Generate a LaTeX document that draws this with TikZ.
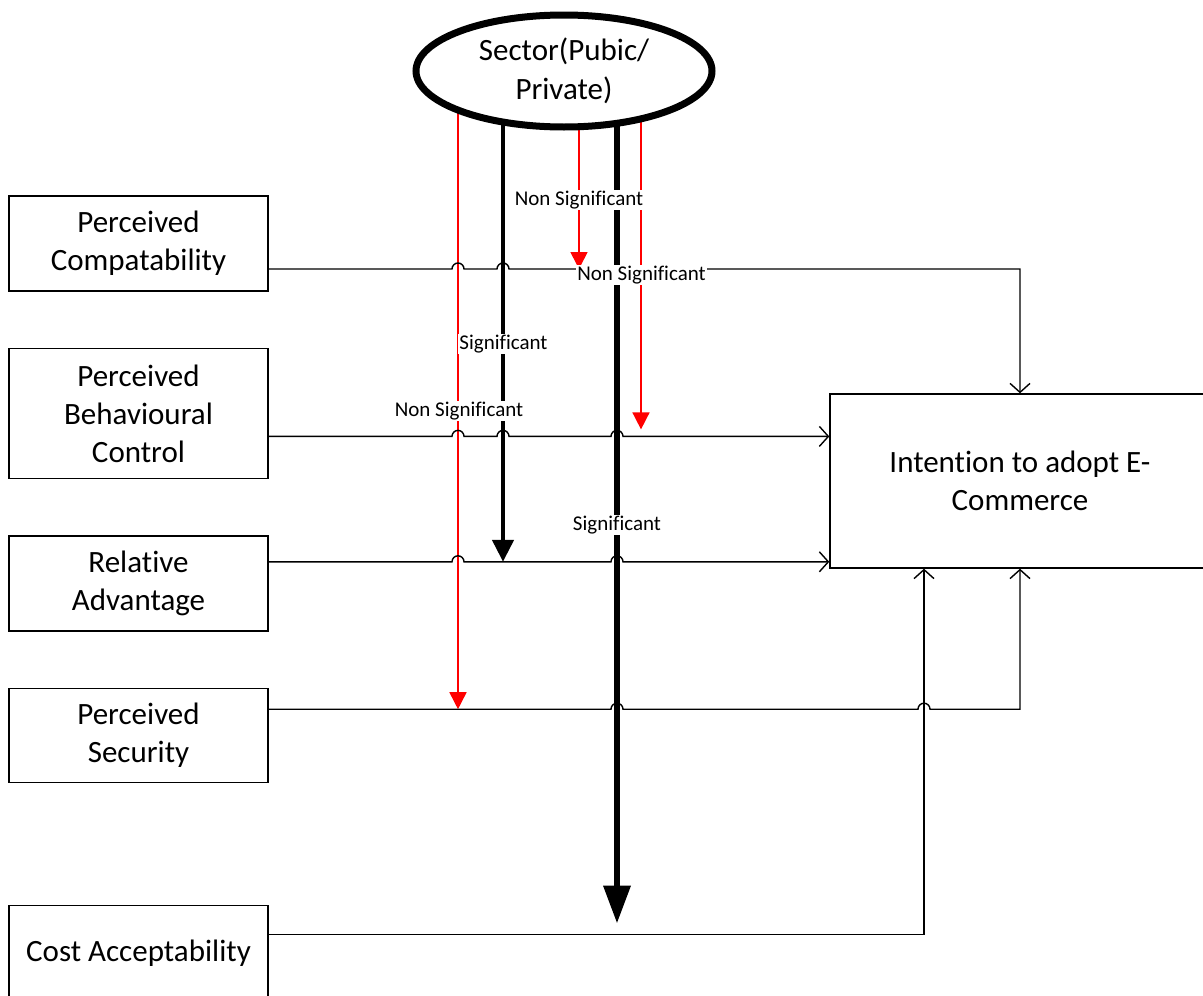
\documentclass[tikz,border=0pt]{standalone}
\usepackage{fontspec}
\setmainfont{Carlito}[Ligatures=NoCommon]
\usetikzlibrary{positioning,arrows.meta,shapes.geometric,backgrounds}
\definecolor{nsred}{HTML}{FF0000}
\tikzset{
  factor/.style={draw, line width=1.4pt, fill=white, align=center,
    minimum width=259pt, inner sep=2pt, font=\fontsize{31pt}{38pt}\selectfont},
  outcome/.style={draw, line width=1.4pt, fill=white, align=center,
    minimum width=380pt, minimum height=174pt, font=\fontsize{31pt}{38pt}\selectfont},
  sector/.style={ellipse, draw, line width=7pt, fill=white, align=center,
    minimum width=296pt, minimum height=112pt, inner sep=0pt,
    font=\fontsize{31pt}{39pt}\selectfont},
  conn/.style={line width=1.4pt, -{Straight Barb[length=9pt,width=20pt]}},
  nsarr/.style={draw=nsred, line width=1.6pt, -{Triangle[length=17pt,width=17pt]}},
  sigarr/.style={line width=4.5pt, -{Triangle[length=22pt,width=21pt]}},
  sigbig/.style={line width=6.5pt, -{Triangle[length=38pt,width=26pt]}},
  lbl/.style={fill=white, inner sep=1pt, anchor=base, font=\fontsize{21pt}{25pt}\selectfont},
}
% small bridge where a line jumps over a vertical one
\newcommand{\hop}[2]{-- ({#1-6},0 |- #2) arc[start angle=180,end angle=360,radius=6]}

\begin{document}
\begin{tikzpicture}[x=1pt, y=-1pt]
  \useasboundingbox (0,0) rectangle (1203,996);
  \node[sector] (sector) at (564,71) {Sector(Pubic/\\Private)};
  \node[outcome] (intent) at (1020,481) {Intention to adopt E-\\Commerce};
  % predictors
  \node[factor, minimum height=95pt] (comp) at (138.5,243.5) {Perceived\\Compatability};
  \node[factor, minimum height=130pt, below=56pt of comp] (pbc) {Perceived\\Behavioural\\Control};
  \node[factor, minimum height=95pt, below=56pt of pbc] (ra) {Relative\\Advantage};
  \node[factor, minimum height=94pt, below=56pt of ra] (ps) {Perceived\\Security};
  \node[factor, minimum height=96pt, below=122pt of ps] (cost) {Cost Acceptability};
  % where each line leaves its box
  \coordinate (compout) at ([yshift=-25.5pt]comp.east);
  \coordinate (pbcout) at ([yshift=-23pt]pbc.east);
  \coordinate (raout) at ([yshift=21.5pt]ra.east);
  \coordinate (psout) at ([yshift=26pt]ps.east);
  \coordinate (costout) at ([yshift=19pt]cost.east);
  % direct effects
  \draw[conn] (compout) \hop{458}{compout} \hop{503}{compout} -| (intent.north);
  \draw[conn] (pbcout) \hop{458}{pbcout} \hop{503}{pbcout} \hop{617}{pbcout}
    -- (intent.west |- pbcout);
  \draw[conn] (raout) \hop{458}{raout} \hop{617}{raout} -- (intent.west |- raout);
  \draw[conn] (psout) \hop{617}{psout} \hop{924}{psout} -| (intent.south);
  \draw[conn] (costout) -| ([xshift=-96pt]intent.south);
  % moderation by sector
  \begin{pgfonlayer}{background}
    \fill[white] (0,0) rectangle (1203,996);
    \draw[nsarr] (sector.center -| 458,0) -- (458,0 |- psout);
    \draw[sigarr] (sector.center -| 503,0) -- (503,0 |- raout);
    \draw[nsarr] (sector.center -| 579,0) -- (579,0 |- compout);
    \draw[sigbig, shorten >=11pt] (sector.center -| 617,0) -- (617,0 |- costout);
    \draw[nsarr, shorten >=7pt] (sector.center -| 641,0) -- (641,0 |- pbcout);
  \end{pgfonlayer}
  \node[lbl] (ns1) at (579,205) {Non Significant};
  \node[lbl] (ns2) at (641.5,280) {Non Significant};
  \node[lbl] (sig1) at (503.5,349) {Significant};
  \node[lbl] (ns3) at (459,416) {Non Significant};
  \node[lbl] (sig2) at (617,530) {Significant};
\end{tikzpicture}
\end{document}
